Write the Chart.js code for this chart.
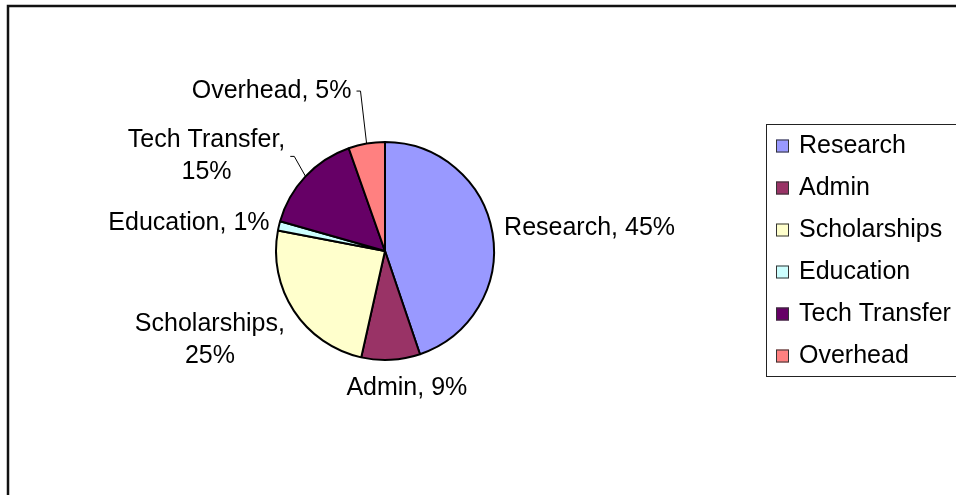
<!DOCTYPE html>
<html>
<head>
<meta charset="utf-8">
<script src="https://cdn.jsdelivr.net/npm/chart.js@4.4.1/dist/chart.umd.min.js"></script>
<style>
  html, body { margin: 0; padding: 0; background: #fff; }
  #wrap { width: 956px; height: 495px; }
</style>
</head>
<body>
<div id="wrap"><canvas id="chart" width="956" height="495"></canvas></div>
<script>
const categories = ["Research", "Admin", "Scholarships", "Education", "Tech Transfer", "Overhead"];
const shares = [44.8, 8.7, 24.5, 1.4, 15.2, 5.4];
const sliceColors = ["#9999FF", "#993366", "#FFFFCC", "#CCFFFF", "#660066", "#FF8080"];

// where each label block sits, relative to the outer mid point of its slice
const labelOffsets = [[97, -5], [16, 28], [-84, 29.5], [-90, -2.5], [-99, -20], [-95, -52.5]];
const leaderLines = [false, false, false, false, true, true];

const FONT = '25px "Liberation Sans", Arial, sans-serif';

function labelLines(i) {
  const pct = Math.round(shares[i]) + "%";
  const name = categories[i];
  return name.length > 10 ? [name + ",", pct] : [name + ", " + pct];
}

const framePlugin = {
  id: "frame",
  beforeDraw(chart) {
    const ctx = chart.ctx;
    ctx.save();
    ctx.fillStyle = "#fff";
    ctx.fillRect(0, 0, chart.width, chart.height);
    ctx.strokeStyle = "#111";
    ctx.lineWidth = 2.5;
    ctx.strokeRect(8, 6, 2000, 2000);
    ctx.restore();
  }
};

const labelPlugin = {
  id: "sliceLabels",
  afterDatasetsDraw(chart) {
    const ctx = chart.ctx;
    const arcs = chart.getDatasetMeta(0).data;
    ctx.save();
    ctx.font = FONT;
    ctx.fillStyle = "#000";
    ctx.textAlign = "center";
    ctx.textBaseline = "middle";
    const lineH = 32;
    arcs.forEach((arc, i) => {
      const mid = (arc.startAngle + arc.endAngle) / 2;
      const ax = arc.x + Math.cos(mid) * arc.outerRadius;
      const ay = arc.y + Math.sin(mid) * arc.outerRadius;
      const cx = ax + labelOffsets[i][0];
      const cy = ay + labelOffsets[i][1];
      const lines = labelLines(i);
      const w = Math.max(...lines.map(l => ctx.measureText(l).width));
      lines.forEach((l, k) => {
        ctx.fillText(l, cx, cy + (k - (lines.length - 1) / 2) * lineH);
      });
      if (leaderLines[i]) {
        const right = cx + w / 2;
        ctx.beginPath();
        ctx.strokeStyle = "#000";
        ctx.lineWidth = 1;
        ctx.moveTo(right + 5, cy);
        ctx.lineTo(right + 9, cy);
        ctx.lineTo(ax, ay);
        ctx.stroke();
      }
    });
    ctx.restore();
  }
};

const legendPlugin = {
  id: "boxLegend",
  afterDraw(chart) {
    const ctx = chart.ctx;
    ctx.save();
    ctx.strokeStyle = "#222";
    ctx.lineWidth = 1;
    ctx.strokeRect(766.5, 124.5, 300, 252);
    ctx.font = FONT;
    ctx.textBaseline = "middle";
    ctx.textAlign = "left";
    categories.forEach((name, i) => {
      const y = 146 + i * 42;
      ctx.fillStyle = sliceColors[i];
      ctx.fillRect(776, y - 6.5, 13, 13);
      ctx.strokeStyle = "#333";
      ctx.strokeRect(776.5, y - 6, 12, 12);
      ctx.fillStyle = "#000";
      ctx.fillText(name, 799, y);
    });
    ctx.restore();
  }
};

new Chart(document.getElementById("chart"), {
  type: "pie",
  data: {
    labels: categories,
    datasets: [{
      data: shares,
      backgroundColor: sliceColors,
      borderColor: "#000",
      borderWidth: 2
    }]
  },
  options: {
    responsive: false,
    animation: false,
    events: [],
    layout: { padding: { left: 275, right: 461, top: 141, bottom: 134 } },
    plugins: {
      legend: { display: false },
      tooltip: { enabled: false }
    }
  },
  plugins: [framePlugin, labelPlugin, legendPlugin]
});
</script>
</body>
</html>
